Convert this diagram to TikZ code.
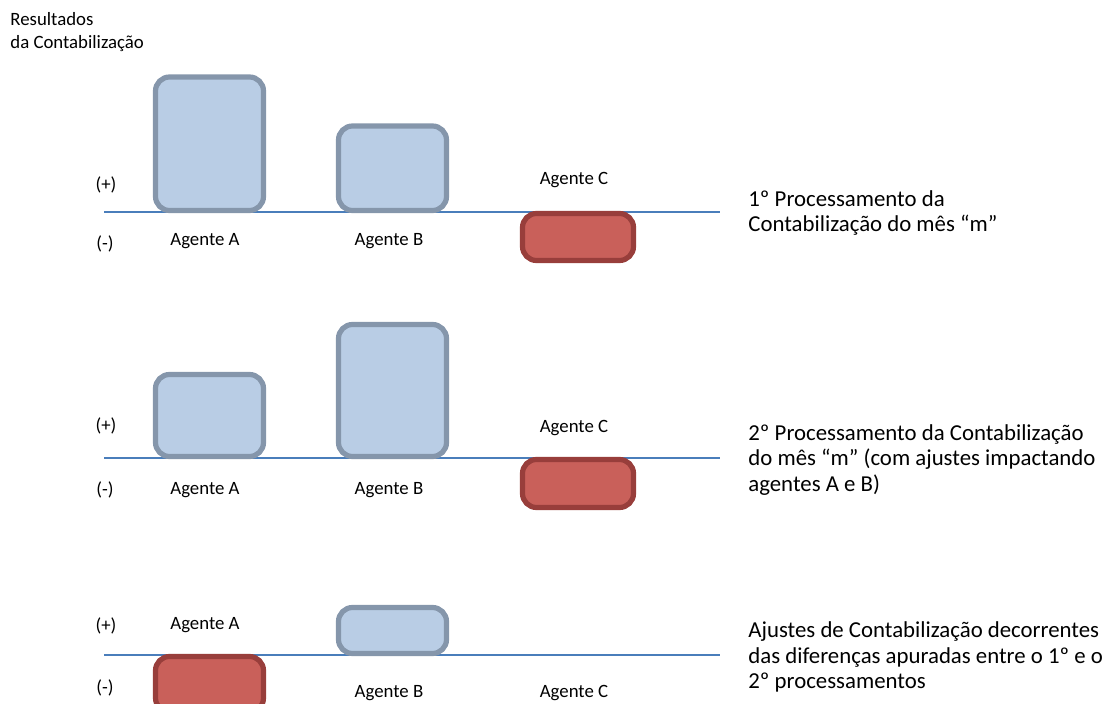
\documentclass[tikz,border=0pt]{standalone}
\usepackage{fontspec}
\setmainfont{Carlito}
\usetikzlibrary{positioning}

\definecolor{posfill}{HTML}{B9CDE5}
\definecolor{posline}{HTML}{8596AB}
\definecolor{negfill}{HTML}{C9605A}
\definecolor{negline}{HTML}{983E3B}
\definecolor{axisblue}{HTML}{4A7EBB}

\tikzset{
  posbar/.style={fill=posfill,draw=posline,line width=2.6pt,rounded corners=7pt},
  negbar/.style={fill=negfill,draw=negline,line width=2.6pt,rounded corners=7pt},
  axisline/.style={draw=axisblue,line width=0.6pt},
  lbl/.style={font=\fontsize{9.4}{11.5}\selectfont,inner sep=0pt},
  desc/.style={font=\fontsize{11.4}{12.6}\selectfont,align=left,anchor=west,inner sep=0pt}
}

\begin{document}
\begin{tikzpicture}[x=0.5pt,y=-0.5pt]
  \clip (0,0) rectangle (1106,704);

  \node[lbl,align=left,anchor=north west] (title) at (10,12) {Resultados\\da Contabilização};

  % 1o processamento
  \draw[axisline] (104,212) -- (720,212);
  \draw[posbar] (155.5,77) rectangle (263.5,210.5);
  \draw[posbar] (338.5,126) rectangle (446.5,210.5);
  \draw[negbar] (522.5,213.5) rectangle (633.5,260.5);
  \node[lbl] (p1) at (106,185) {(+)};
  \node[lbl] (m1) at (105,244) {(-)};
  \node[lbl] (a1) at (205,241) {Agente A};
  \node[lbl] (b1) at (389,241) {Agente B};
  \node[lbl] (c1) at (574,180) {Agente C};
  \node[desc] (d1) at (748,213) {1º Processamento da\\Contabilização do mês “m”};

  % 2o processamento
  \draw[axisline] (104,458) -- (720,458);
  \draw[posbar] (155.5,374.5) rectangle (263.5,456.5);
  \draw[posbar] (338.5,324.5) rectangle (446.5,456.5);
  \draw[negbar] (522.5,459.5) rectangle (633.5,507.5);
  \node[lbl] (p2) at (106,426) {(+)};
  \node[lbl] (m2) at (105,490) {(-)};
  \node[lbl] (a2) at (205,490) {Agente A};
  \node[lbl] (b2) at (389,490) {Agente B};
  \node[lbl] (c2) at (574,428) {Agente C};
  \node[desc] (d2) at (748,460) {2º Processamento da Contabilização\\do mês “m” (com ajustes impactando\\agentes A e B)};

  % ajustes
  \draw[axisline] (104,655) -- (720,655);
  \draw[posbar] (338.5,607.5) rectangle (446.5,653.5);
  \draw[negbar] (155.5,656.5) rectangle (263.5,712);
  \node[lbl] (p3) at (106,626) {(+)};
  \node[lbl] (m3) at (105,688) {(-)};
  \node[lbl] (a3) at (205,625) {Agente A};
  \node[lbl] (b3) at (389,693) {Agente B};
  \node[lbl] (c3) at (574,693) {Agente C};
  \node[desc] (d3) at (748,657) {Ajustes de Contabilização decorrentes\\das diferenças apuradas entre o 1º e o\\2º processamentos};
\end{tikzpicture}
\end{document}
